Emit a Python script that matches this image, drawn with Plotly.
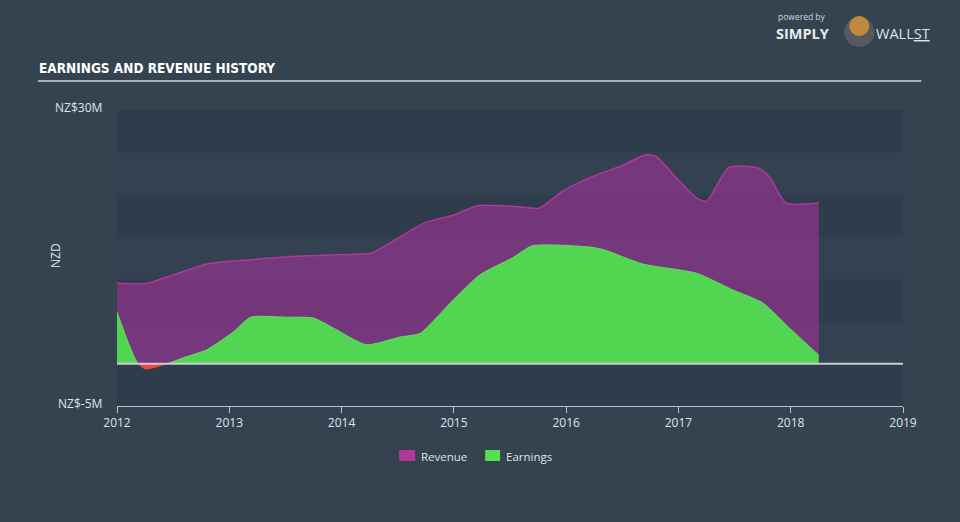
import plotly.graph_objects as go

rev_x = [2012.0, 2012.26, 2012.5, 2012.8, 2013.19, 2013.6, 2014.22, 2014.27, 2014.46, 2014.73, 2015.0, 2015.22,
         2015.55, 2015.76, 2015.97, 2016.21, 2016.51, 2016.71, 2016.8, 2017.0, 2017.16, 2017.25, 2017.45, 2017.72,
         2017.81, 2017.96, 2018.25]
rev_y = [9.5, 9.5, 10.5, 11.8, 12.3, 12.7, 13.0, 13.1, 14.5, 16.6, 17.6, 18.7,
         18.6, 18.4, 20.4, 22.0, 23.5, 24.7, 24.5, 21.7, 19.6, 19.2, 23.2, 23.1,
         22.1, 19.0, 19.0]

earn_x = [2012.0, 2012.19, 2012.25, 2012.44, 2012.59, 2012.8, 2013.04, 2013.19, 2013.5, 2013.75, 2013.93, 2014.22,
          2014.52, 2014.7, 2014.97, 2015.23, 2015.52, 2015.7, 2016.21, 2016.33, 2016.68, 2017.16, 2017.48,
          2017.75, 2017.99, 2018.25]
earn_y = [6.1, 0.0, -0.6, 0.0, 0.7, 1.65, 3.8, 5.5, 5.5, 5.4, 4.2, 2.25,
          3.15, 3.6, 7.2, 10.5, 12.5, 13.95, 13.8, 13.5, 11.8, 10.7, 8.75,
          7.2, 4.2, 1.0]

years = [2012, 2013, 2014, 2015, 2016, 2017, 2018, 2019]
legend_names = ["Revenue", "Earnings"]

BG = "#354350"
BAND_DARK = "#2f3c4b"
BAND_LIGHT = "#334151"
REV_LINE = "#b0379c"
REV_FILL = "rgba(160,52,150,0.62)"
EARN_LINE = "#5fe05f"
EARN_FILL = "#52d652"
NEG_FILL = "#f0483c"
TXT = "#dfe3e8"
FONT = "Open Sans, Roboto, sans-serif"

fig = go.Figure()

fig.add_trace(go.Scatter(
    x=rev_x, y=rev_y, mode="lines", name="Revenue",
    line=dict(color=REV_LINE, width=1.5, shape="spline", smoothing=0.6),
    fill="tozeroy", fillcolor=REV_FILL, showlegend=False, hoverinfo="skip"))

pos_y = [max(v, 0) for v in earn_y]
fig.add_trace(go.Scatter(
    x=earn_x, y=pos_y, mode="lines", name="Earnings",
    line=dict(color=EARN_LINE, width=1, shape="spline", smoothing=0.6),
    fill="tozeroy", fillcolor=EARN_FILL, showlegend=False, hoverinfo="skip"))

neg_x = [x for x, v in zip(earn_x, earn_y) if 2012.15 < x < 2012.5]
neg_y = [min(v, 0) for x, v in zip(earn_x, earn_y) if 2012.15 < x < 2012.5]
fig.add_trace(go.Scatter(
    x=neg_x, y=neg_y, mode="lines",
    line=dict(color=NEG_FILL, width=1, shape="spline", smoothing=0.8),
    fill="tozeroy", fillcolor=NEG_FILL, showlegend=False, hoverinfo="skip"))

PW = 785.7
PH = 296.0
def px(x):
    return (x - 117) / PW
def py(y):
    return (406 - y) / PH

shapes = []
for i, lo in enumerate(range(-5, 30, 5)):
    shapes.append(dict(type="rect", xref="x", yref="y", x0=2012, x1=2019, y0=lo, y1=lo + 5,
                       fillcolor=BAND_DARK if i % 2 == 0 else BAND_LIGHT, line=dict(width=0), layer="below"))
shapes.append(dict(type="line", xref="x", yref="y", x0=2012, x1=2019, y0=0, y1=0,
                   line=dict(color="#c9cdd2", width=2), layer="above"))
shapes.append(dict(type="line", xref="paper", yref="paper", x0=px(38), x1=px(921), y0=py(81), y1=py(81),
                   line=dict(color="#a9afb6", width=2)))
# logo
shapes.append(dict(type="circle", xref="paper", yref="paper", x0=px(844), x1=px(874), y0=py(47), y1=py(17),
                   fillcolor="#555a5f", line=dict(width=0)))
shapes.append(dict(type="circle", xref="paper", yref="paper", x0=px(849), x1=px(869), y0=py(36), y1=py(16),
                   fillcolor="#c08a3c", line=dict(width=0)))
# legend swatches
shapes.append(dict(type="rect", xref="paper", yref="paper", x0=px(399), x1=px(415), y0=py(461), y1=py(450),
                   fillcolor="#b0389a", line=dict(width=0)))
shapes.append(dict(type="rect", xref="paper", yref="paper", x0=px(485), x1=px(500), y0=py(461), y1=py(450),
                   fillcolor="#52e052", line=dict(width=0)))

annotations = [
    dict(text="<b>EARNINGS AND REVENUE HISTORY</b>", xref="paper", yref="paper",
         x=px(37), y=py(68), xanchor="left", yanchor="middle", showarrow=False,
         font=dict(family="DejaVu Sans Condensed, Liberation Sans Narrow, sans-serif", size=13.5, color="#ffffff")),
    dict(text="NZ$30M", xref="paper", yref="y", x=px(104), y=30, xanchor="right", yanchor="middle", yshift=3,
         showarrow=False, font=dict(family=FONT, size=12, color=TXT)),
    dict(text="NZ$-5M", xref="paper", yref="y", x=px(104), y=-5, xanchor="right", yanchor="middle", yshift=3,
         showarrow=False, font=dict(family=FONT, size=12, color=TXT)),
    dict(text="NZD", xref="paper", yref="paper", x=px(55), y=py(255), textangle=-90,
         xanchor="center", yanchor="middle", showarrow=False, font=dict(family=FONT, size=12, color=TXT)),
    dict(text="powered by", xref="paper", yref="paper", x=px(777), y=py(16), borderpad=0,
         xanchor="left", yanchor="middle", showarrow=False, font=dict(family=FONT, size=8.5, color="#d0d4d8")),
    dict(text="<b>SIMPLY</b>", xref="paper", yref="paper", x=px(775), y=py(33), borderpad=0,
         xanchor="left", yanchor="middle", showarrow=False,
         font=dict(family="Open Sans, sans-serif", size=14.5, color="#e8eaec")),
    dict(text="WALL<u>ST</u>", xref="paper", yref="paper", x=px(875), y=py(33), borderpad=0,
         xanchor="left", yanchor="middle", showarrow=False,
         font=dict(family="Open Sans, sans-serif", size=14.5, color="#dfe2e5")),
    dict(text=legend_names[0], xref="paper", yref="paper", x=px(419), y=py(456),
         xanchor="left", yanchor="middle", showarrow=False, font=dict(family=FONT, size=11.5, color=TXT)),
    dict(text=legend_names[1], xref="paper", yref="paper", x=px(504), y=py(456),
         xanchor="left", yanchor="middle", showarrow=False, font=dict(family=FONT, size=11.5, color=TXT)),
]

fig.update_layout(
    width=960, height=522,
    paper_bgcolor=BG, plot_bgcolor=BG,
    margin=dict(l=117, r=57, t=110, b=116),
    shapes=shapes, annotations=annotations,
    showlegend=False,
    xaxis=dict(range=[2012, 2019], tickvals=years, ticktext=[str(y) for y in years],
               showgrid=False, zeroline=False, showline=True, linecolor="#b5c0cc", linewidth=1,
               ticks="outside", ticklen=6, tickcolor="#b5c0cc",
               tickfont=dict(family=FONT, size=12, color=TXT), fixedrange=True),
    yaxis=dict(range=[-5, 30], showgrid=False, zeroline=False, showticklabels=False, showline=False,
               fixedrange=True),
)

fig.write_html("out.html")
